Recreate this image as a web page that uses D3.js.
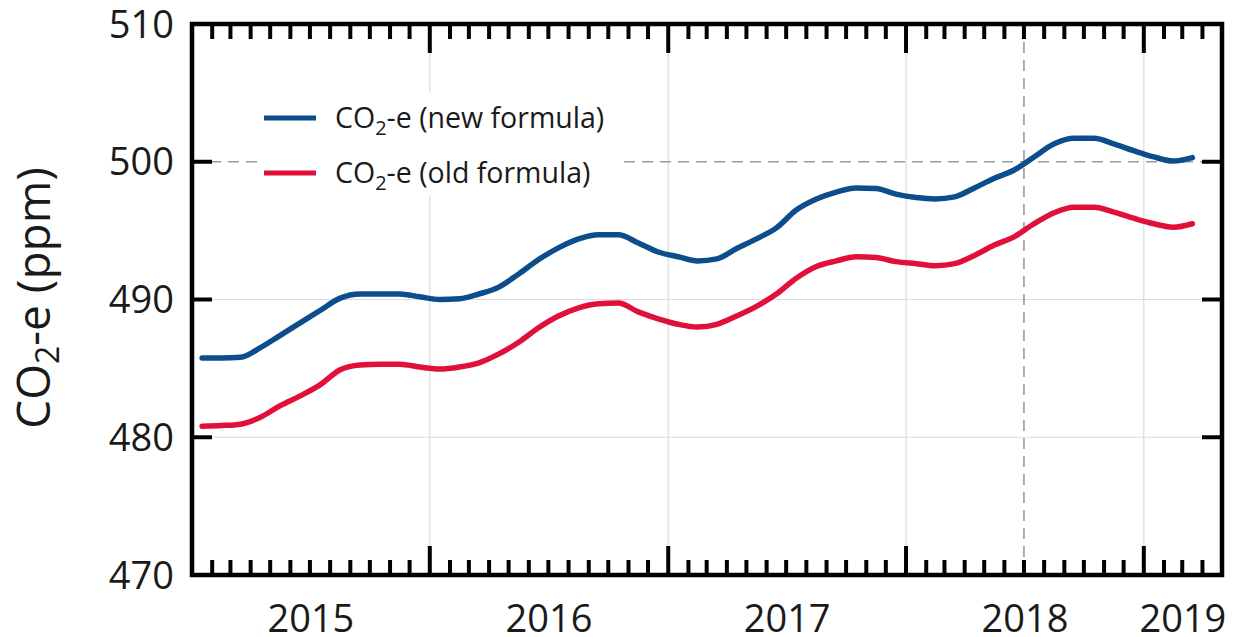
<!DOCTYPE html>
<html>
<head>
<meta charset="utf-8">
<script src="https://cdn.jsdelivr.net/npm/d3@7"></script>
<style>
  html, body { margin: 0; padding: 0; background: #fff; }
  svg { display: block; }
  text { font-family: "Open Sans", "DejaVu Sans", sans-serif; fill: #1a1a1a; }
</style>
</head>
<body>
<svg id="chart" width="1235" height="637"></svg>
<script>
// ---- data (monthly, mid-month) ----
const months = [
  "2015-01","2015-02","2015-03","2015-04","2015-05","2015-06","2015-07","2015-08","2015-09","2015-10","2015-11","2015-12",
  "2016-01","2016-02","2016-03","2016-04","2016-05","2016-06","2016-07","2016-08","2016-09","2016-10","2016-11","2016-12",
  "2017-01","2017-02","2017-03","2017-04","2017-05","2017-06","2017-07","2017-08","2017-09","2017-10","2017-11","2017-12",
  "2018-01","2018-02","2018-03","2018-04","2018-05","2018-06","2018-07","2018-08","2018-09","2018-10","2018-11","2018-12",
  "2019-01","2019-02","2019-03"
];
const newFormula = [
  485.75, 485.75, 485.8, 486.5, 487.4, 488.3, 489.2, 490.1, 490.4, 490.4, 490.4, 490.2,
  490.0, 490.05, 490.4, 490.9, 491.85, 492.9, 493.75, 494.4, 494.7, 494.7, 494.1, 493.45,
  493.1, 492.8, 492.95, 493.7, 494.4, 495.2, 496.5, 497.3, 497.8, 498.1, 498.05, 497.65,
  497.4, 497.3, 497.45, 498.1, 498.8, 499.4, 500.35, 501.3, 501.7, 501.7, 501.3, 500.8,
  500.35, 500.05, 500.3
];
const oldFormula = [
  480.8, 480.85, 480.95, 481.45, 482.3, 483.0, 483.8, 484.9, 485.25, 485.3, 485.3, 485.1,
  484.95, 485.1, 485.4, 486.05, 486.9, 487.95, 488.8, 489.4, 489.7, 489.75, 489.1, 488.6,
  488.2, 488.0, 488.2, 488.8, 489.5, 490.4, 491.55, 492.4, 492.8, 493.1, 493.05, 492.75,
  492.6, 492.45, 492.6, 493.2, 493.95, 494.55, 495.5, 496.3, 496.7, 496.7, 496.35, 495.9,
  495.5, 495.25, 495.5
];
const seriesNames = ["new formula", "old formula"];
const seriesColors = ["#0c4d8b", "#e1103b"];
const yTicks = [470, 480, 490, 500, 510];
const yGrid = [480, 490];
const yRef = 500;
const xRef = "2018-07-01";
const xDomain = ["2015-01-01", "2019-05-01"];
const yearLabels = ["2015", "2016", "2017", "2018", "2019"];

// ---- layout ----
const svg = d3.select("#chart");
const L = 192, R = 1222, T = 24, B = 575;
const parse = d3.utcParse("%Y-%m-%d");
const parseM = d3.utcParse("%Y-%m");
const x = d3.scaleUtc().domain(xDomain.map(parse)).range([L, R]);
const y = d3.scaleLinear().domain([470, 510]).range([B, T]);
const midMonth = m => { const d = parseM(m); return new Date(+d + (+d3.utcMonth.offset(d, 1) - +d) / 2); };

// gridlines
const years = d3.utcYear.range(...x.domain()).filter(d => +d > +x.domain()[0]);
svg.append("g").selectAll("line").data(years).join("line")
  .attr("x1", d => x(d)).attr("x2", d => x(d)).attr("y1", T).attr("y2", B)
  .attr("stroke", "#dcdcdc").attr("stroke-width", 1.2);
svg.append("g").selectAll("line").data(yGrid).join("line")
  .attr("x1", L).attr("x2", R).attr("y1", d => y(d)).attr("y2", d => y(d))
  .attr("stroke", "#dcdcdc").attr("stroke-width", 1.2);
// reference dashed lines
svg.append("line").attr("x1", L).attr("x2", R).attr("y1", y(yRef)).attr("y2", y(yRef))
  .attr("stroke", "#9a9a9a").attr("stroke-width", 1.6).attr("stroke-dasharray", "11,7");
svg.append("line").attr("x1", x(parse(xRef))).attr("x2", x(parse(xRef))).attr("y1", T).attr("y2", B)
  .attr("stroke", "#9a9a9a").attr("stroke-width", 1.6).attr("stroke-dasharray", "11,7");

// legend background
svg.append("rect").attr("x", 258).attr("y", 92).attr("width", 364).attr("height", 103).attr("fill", "#fff");

// lines
const line = d3.line().x((d, i) => x(midMonth(months[i]))).y(d => y(d)).curve(d3.curveMonotoneX);
[newFormula, oldFormula].forEach((s, k) => {
  svg.append("path").datum(s).attr("d", line).attr("fill", "none")
    .attr("stroke", seriesColors[k]).attr("stroke-width", 5.5).attr("stroke-linejoin", "round").attr("stroke-linecap", "round");
});

// axes frame
const axisColor = "#000";
svg.append("rect").attr("x", L).attr("y", T).attr("width", R - L).attr("height", B - T)
  .attr("fill", "none").attr("stroke", axisColor).attr("stroke-width", 4.5);

// x ticks (top & bottom, inward)
const monthTicks = d3.utcMonth.range(...x.domain()).filter(d => +d > +x.domain()[0]);
const isYear = d => d.getUTCMonth() === 0;
const tickLen = d => isYear(d) ? 29 : 15;
const xt = svg.append("g").attr("stroke", axisColor).attr("stroke-width", 4);
xt.selectAll("line.b").data(monthTicks).join("line").attr("class", "b")
  .attr("x1", d => x(d)).attr("x2", d => x(d)).attr("y1", B).attr("y2", d => B - tickLen(d));
xt.selectAll("line.t").data(monthTicks).join("line").attr("class", "t")
  .attr("x1", d => x(d)).attr("x2", d => x(d)).attr("y1", T).attr("y2", d => T + tickLen(d));

// y ticks (left & right, inward)
const yt = svg.append("g").attr("stroke", axisColor).attr("stroke-width", 4);
yt.selectAll("line.l").data(yTicks).join("line").attr("class", "l")
  .attr("x1", L).attr("x2", L + 20).attr("y1", d => y(d)).attr("y2", d => y(d));
yt.selectAll("line.r").data(yTicks).join("line").attr("class", "r")
  .attr("x1", R).attr("x2", R - 20).attr("y1", d => y(d)).attr("y2", d => y(d));

// y tick labels
svg.append("g").selectAll("text").data(yTicks).join("text")
  .attr("x", 174).attr("y", d => y(d) + 13.5).attr("text-anchor", "end")
  .attr("font-size", 38).text(d => d);

// x year labels centered in each year span
const d0 = x.domain()[0], d1 = x.domain()[1];
svg.append("g").selectAll("text").data(yearLabels).join("text")
  .attr("x", yv => {
    const s = new Date(Date.UTC(+yv, 0, 1)), e = new Date(Date.UTC(+yv + 1, 0, 1));
    const a = Math.max(+s, +d0), b = Math.min(+e, +d1);
    return x(new Date((a + b) / 2));
  })
  .attr("y", 632).attr("text-anchor", "middle").attr("font-size", 38).text(d => d);

// y axis title
const yt2 = svg.append("text").attr("transform", "translate(50,298) rotate(-90)")
  .attr("text-anchor", "middle").attr("font-size", 46);
yt2.append("tspan").text("CO");
yt2.append("tspan").attr("font-size", 32).attr("dy", 9).text("2");
yt2.append("tspan").attr("dy", -9).text("-e (ppm)");

// legend
const lg = svg.append("g");
seriesNames.forEach((n, k) => {
  const ly = 118 + k * 55;
  lg.append("line").attr("x1", 264).attr("x2", 316).attr("y1", ly).attr("y2", ly)
    .attr("stroke", seriesColors[k]).attr("stroke-width", 5);
  const t = lg.append("text").attr("x", 335).attr("y", ly + 10).attr("font-size", 28.5);
  t.append("tspan").text("CO");
  t.append("tspan").attr("font-size", 20).attr("dy", 7).text("2");
  t.append("tspan").attr("dy", -7).text("-e (" + n + ")");
});
</script>
</body>
</html>
